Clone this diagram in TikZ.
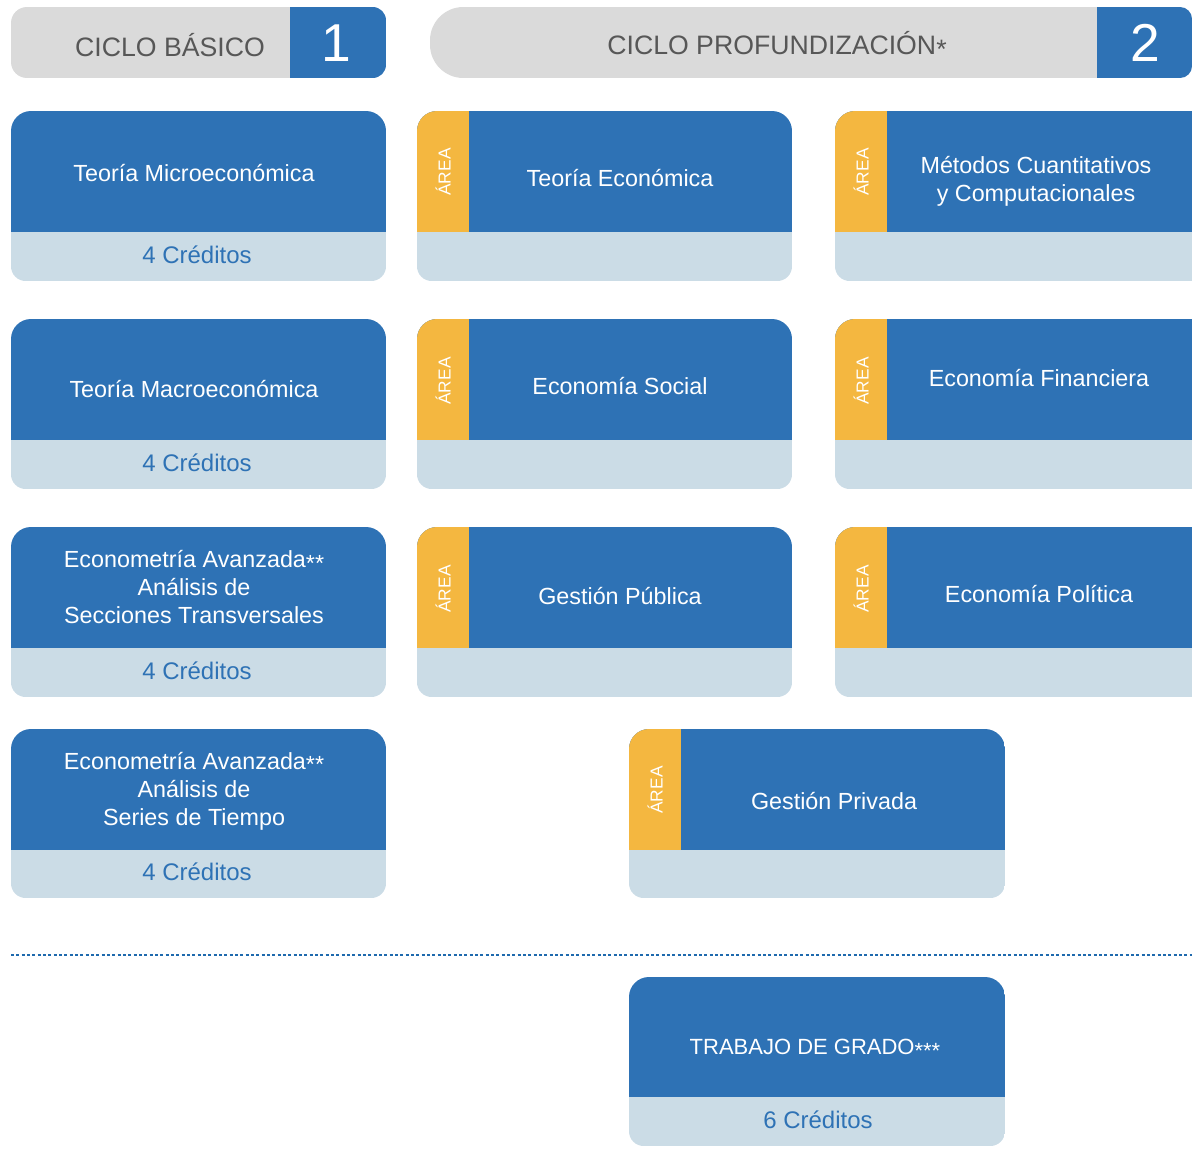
\documentclass[tikz,border=0pt]{standalone}
\usepackage{fontspec}
\setmainfont{Liberation Sans}
\definecolor{cblue}{HTML}{2E72B5}
\definecolor{clight}{HTML}{CBDCE6}
\definecolor{cyellow}{HTML}{F4B740}
\definecolor{cgray}{HTML}{DADADA}
\definecolor{cgtext}{HTML}{575757}
\definecolor{cdot}{HTML}{1F6AAE}
\newcommand\lowstars[1]{\raisebox{-0.3ex}{#1}}
\newcommand\subjcard[6]{% x1,y1,x2,ymid,y2,area(1/0)
  \begin{scope}
    \clip[rounded corners=15pt] (#1,#2) rectangle (#3,#5+40);
    \fill[cblue] (#1,#2) rectangle (#3,#4);
    \ifnum#6=1 \fill[cyellow] (#1,#2) rectangle (#1+52,#4);\fi
  \end{scope}
  \begin{scope}
    \clip[rounded corners=11pt] (#1,#2-40) rectangle (#3,#5);
    \fill[clight] (#1,#4) rectangle (#3,#5);
  \end{scope}}
\begin{document}
\begin{tikzpicture}[x=0.75pt,y=-0.75pt,
  title/.style={text=white,font=\fontsize{17.5}{21}\selectfont,align=center,inner sep=0pt},
  credit/.style={text=cblue,font=\fontsize{18}{21}\selectfont,inner sep=0pt},
  arealbl/.style={text=white,font=\fontsize{13}{14}\selectfont,rotate=90,inner sep=0pt},
  headtxt/.style={text=cgtext,font=\fontsize{20}{24}\selectfont,inner sep=0pt},
  headnum/.style={text=white,font=\fontsize{40}{44}\selectfont,inner sep=0pt}]
\useasboundingbox (0,0) rectangle (1192,1160);
% headers
\begin{scope}
  \clip[rounded corners=12pt] (11,7) rectangle (386,78);
  \fill[cgray] (11,7) rectangle (290,78);
\end{scope}
\begin{scope}
  \clip[rounded corners=10pt] (11,7) rectangle (386,78);
  \fill[cblue] (290,7) rectangle (386,78);
\end{scope}
\begin{scope}
  \clip[rounded corners=25pt] (430,7) rectangle (1192,78);
  \fill[cgray] (430,7) rectangle (1097,78);
\end{scope}
\begin{scope}
  \clip[rounded corners=9pt] (430,7) rectangle (1192,78);
  \fill[cblue] (1097,7) rectangle (1192,78);
\end{scope}
\node[headtxt] (h1) at (170,45) {CICLO BÁSICO};
\node[headnum] (n1) at (336,43) {1};
\node[headtxt] (h2) at (777,45) {CICLO PROFUNDIZACIÓN\lowstars{*}};
\node[headnum] (n2) at (1145,43) {2};
% column 1
\subjcard{11}{111}{386}{232}{281}{0}
\subjcard{11}{319}{386}{440}{489}{0}
\subjcard{11}{527}{386}{648}{697}{0}
\subjcard{11}{729}{386}{850}{898}{0}
\node[title] (c1) at (194,173) {Teoría Microeconómica};
\node[credit] (k1) at (197,255) {4 Créditos};
\node[title] (c2) at (194,389) {Teoría Macroeconómica};
\node[credit] (k2) at (197,463) {4 Créditos};
\node[title] (c3) at (194,587) {Econometría Avanzada\lowstars{**}\\Análisis de\\Secciones Transversales};
\node[credit] (k3) at (197,671) {4 Créditos};
\node[title] (c4) at (194,791) {Econometría Avanzada\lowstars{**}\\Análisis de\\Series de Tiempo};
\node[credit] (k4) at (197,872) {4 Créditos};
% column 2
\subjcard{417}{111}{792}{232}{281}{1}
\subjcard{417}{319}{792}{440}{489}{1}
\subjcard{417}{527}{792}{648}{697}{1}
\node[arealbl] (a1) at (443,172) {ÁREA};
\node[arealbl] (a2) at (443,381) {ÁREA};
\node[arealbl] (a3) at (443,589) {ÁREA};
\node[title] (m1) at (620,178) {Teoría Económica};
\node[title] (m2) at (620,386) {Economía Social};
\node[title] (m3) at (620,596) {Gestión Pública};
% column 3
\subjcard{835}{111}{1230}{232}{281}{1}
\subjcard{835}{319}{1230}{440}{489}{1}
\subjcard{835}{527}{1230}{648}{697}{1}
\node[arealbl] (a4) at (861,172) {ÁREA};
\node[arealbl] (a5) at (861,381) {ÁREA};
\node[arealbl] (a6) at (861,589) {ÁREA};
\node[title] (r1) at (1036,181) {Métodos Cuantitativos\\y Computacionales};
\node[title] (r2) at (1039,378) {Economía Financiera};
\node[title] (r3) at (1039,594) {Economía Política};
% row 4 centre
\subjcard{629}{729}{1005}{850}{898}{1}
\node[arealbl] (a7) at (655,790) {ÁREA};
\node[title] (g1) at (834,801) {Gestión Privada};
% separator
\coordinate (sepL) at (11,955);
\coordinate (sepR) at (1192,955);
\draw[cdot,line width=2.2pt,dash pattern=on 2.2pt off 1.8pt] (sepL) -- (sepR);
% trabajo de grado
\subjcard{629}{977}{1005}{1097}{1146}{0}
\node[title,font=\fontsize{16.5}{21}\selectfont] (tg) at (815,1049) {TRABAJO DE GRADO\lowstars{***}};
\node[credit] (kg) at (818,1120) {6 Créditos};
\end{tikzpicture}
\end{document}
